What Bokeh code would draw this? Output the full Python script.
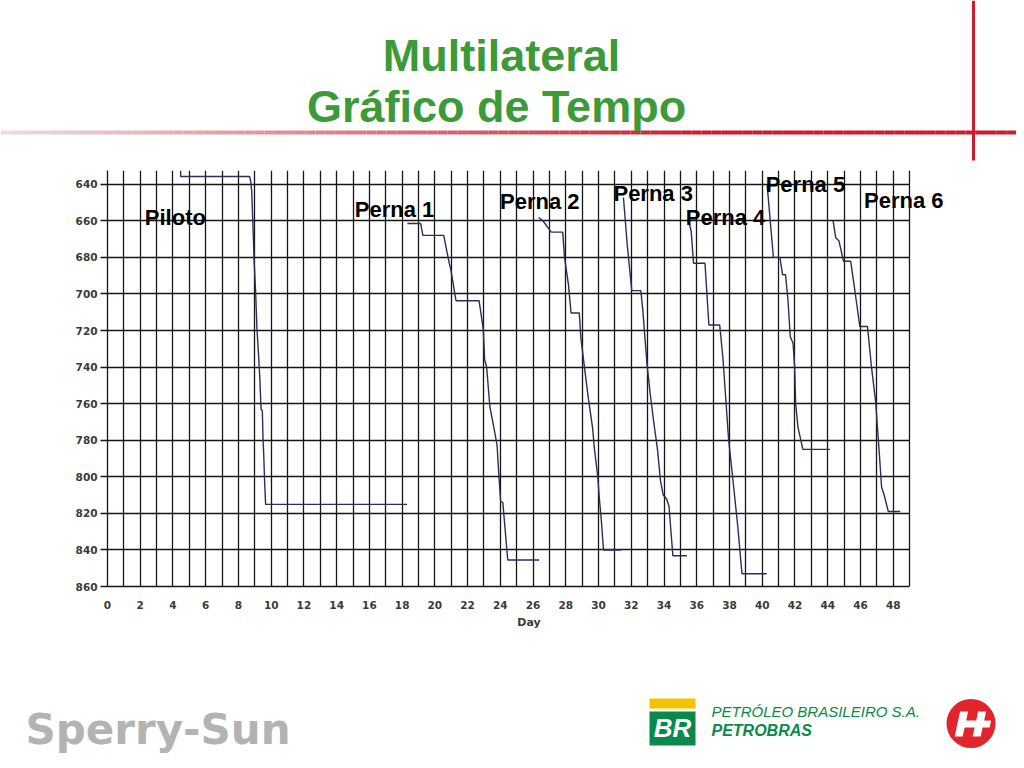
from bokeh.plotting import figure
from bokeh.models import Range1d, FixedTicker, Label
from bokeh.core.properties import value
from bokeh.embed import file_html
from bokeh.resources import INLINE

# ---------------- data ----------------
x_ticks = list(range(0, 49, 2))          # Day tick labels
x_grid_days = list(range(0, 50))          # one vertical line per day
y_ticks = list(range(640, 861, 20))       # depth tick labels

piloto_day = [4.47, 4.47, 8.69, 8.75, 8.81, 8.87, 8.91, 8.95, 9.05, 9.13, 9.22, 9.3, 9.38, 9.46, 9.5, 9.54, 9.6, 9.66, 18.3]
piloto_depth = [632.5, 635.8, 635.8, 638.5, 644, 658.7, 668.7, 680.6, 698.9, 719, 731.9, 745, 763, 764, 778.8, 787, 802.8, 815.1, 815.1]

perna1_day = [18.32, 19.13, 19.27, 20.54, 20.88, 20.98, 21.29, 22.7, 22.96, 23.04, 23.16, 23.36, 23.65, 23.8, 23.92, 24.02, 24.15, 24.45, 26.37]
perna1_depth = [661.5, 661.5, 668, 668, 683.3, 687, 703.7, 703.7, 719.7, 736, 739.8, 761.6, 775.3, 783, 800.5, 813.6, 814, 845.5, 845.5]

perna2_day = [26.34, 26.6, 27.11, 27.81, 27.92, 28.16, 28.32, 28.82, 28.92, 29.13, 29.37, 29.63, 29.75, 29.95, 30.05, 30.17, 30.3, 31.38]
perna2_depth = [658.2, 660, 666.2, 666.2, 680, 694.9, 710.4, 710.4, 724, 739.5, 756.7, 773, 785, 800, 812, 824, 840, 840]

perna3_day = [31.52, 31.75, 32.03, 32.58, 32.7, 32.96, 33.16, 33.4, 33.6, 33.78, 33.95, 34.15, 34.3, 34.54, 35.4]
perna3_depth = [647.3, 673, 698.2, 698.2, 708.6, 738.5, 755, 772, 785, 802, 810, 812, 816, 843.2, 843.2]

perna4_day = [35.5, 35.66, 35.8, 36.5, 36.74, 37.4, 37.6, 37.94, 38.2, 38.5, 38.76, 40.27]
perna4_depth = [660, 665.8, 683.2, 683.2, 717, 717, 735.3, 779.2, 801.1, 826.7, 853, 853]

perna5_day = [40.3, 40.68, 41.08, 41.24, 41.42, 41.57, 41.71, 41.88, 41.98, 42.04, 42.18, 42.48, 44.13]
perna5_depth = [640.5, 680, 680, 689.5, 689.5, 703.2, 723.3, 727, 739.8, 760, 772.8, 785, 785]

perna6_day = [44.33, 44.49, 44.69, 44.96, 45.4, 45.65, 45.96, 46.43, 46.67, 46.94, 47.02, 47.14, 47.29, 47.43, 47.7, 48.43]
perna6_depth = [660, 669.3, 671.1, 682.1, 682.1, 697.7, 717.8, 717.8, 739.8, 760, 771, 785.6, 805.7, 809.4, 819, 819]

leg_names = ["Piloto", "Perna 1", "Perna 2", "Perna 3", "Perna 4", "Perna 5", "Perna 6"]
leg_days = [piloto_day, perna1_day, perna2_day, perna3_day, perna4_day, perna5_day, perna6_day]
leg_depths = [piloto_depth, perna1_depth, perna2_depth, perna3_depth, perna4_depth, perna5_depth, perna6_depth]

# ---------------- styles / annotation positions ----------------
W = 1016
GREEN = "#3c9a38"
RED = "#c81f2e"
LINE = "#2d2d5c"
GRID = "#151515"
label_pos = {  # (day, depth) anchor of leg names
    "Piloto": (2.28, 658.4), "Perna 1": (15.11, 653.9), "Perna 2": (23.98, 649.7),
    "Perna 3": (30.91, 645.0), "Perna 4": (35.33, 658.1), "Perna 5": (40.21, 640.2),
    "Perna 6": (46.22, 649.0),
}

def blank(h, y0, y1):
    f = figure(width=W, height=h, x_range=Range1d(0, W), y_range=Range1d(y1, y0),
               output_backend="svg", toolbar_location=None,
               x_axis_location=None, y_axis_location=None, min_border=0)
    f.grid.visible = False
    f.outline_line_color = None
    f.background_fill_color = "white"
    return f

# ---------------- header ----------------
top = blank(170, 0, 170)
n = 100
xs = [i * (W / n) for i in range(n + 1)]
def grad(x):
    t = min(1.0, max(0.0, x / 700.0))
    c0 = (236, 222, 224); c1 = (200, 31, 46)
    return "#%02x%02x%02x" % tuple(int(c0[k] + (c1[k] - c0[k]) * t) for k in range(3))
top.segment(x0=xs[:-1], y0=[132] * n, x1=xs[1:], y1=[132] * n,
            line_color=[grad((a + b) / 2) for a, b in zip(xs[:-1], xs[1:])], line_width=4)
top.segment(x0=[973], y0=[0], x1=[973], y1=[160], line_color=RED, line_width=3)
top.text(x=[501, 496], y=[55, 106], text=["Multilateral", "Gráfico de Tempo"],
         text_font=value("Liberation Sans"), text_font_style="bold", text_font_size="45px",
         text_color=GREEN, text_align="center", text_baseline="alphabetic")

# ---------------- chart ----------------
X_END = 51.5
p = figure(width=W, height=470, x_range=Range1d(0, X_END), y_range=Range1d(860, 632.5),
           output_backend="svg", toolbar_location=None,
           min_border_left=107, min_border_right=66, min_border_top=0, min_border_bottom=54)
p.outline_line_color = None
p.background_fill_color = "white"

p.xaxis.ticker = FixedTicker(ticks=x_ticks, minor_ticks=[])
p.xaxis.bounds = (0, 49)
p.xgrid.ticker = FixedTicker(ticks=x_grid_days, minor_ticks=[])
p.yaxis.ticker = FixedTicker(ticks=y_ticks, minor_ticks=[])
p.xgrid.grid_line_color = GRID
p.xgrid.grid_line_width = 1.3
p.ygrid.grid_line_color = GRID
p.ygrid.grid_line_width = 1.3
try:
    p.ygrid.cross_bounds = (0, 49)
except Exception:
    pass

for ax in (p.xaxis, p.yaxis):
    ax.axis_line_color = GRID
    ax.axis_line_width = 1.3
    ax.major_label_text_font = "DejaVu Sans"
    ax.major_label_text_font_style = "bold"
    ax.major_label_text_font_size = "10.5px"
    ax.major_label_text_color = "#3a3a3a"
    ax.minor_tick_line_color = None

p.xaxis.major_tick_line_color = None
p.xaxis.major_label_standoff = 8
p.xaxis.axis_label = "Day"
p.xaxis.axis_label_text_font = "DejaVu Sans"
p.xaxis.axis_label_text_font_style = "bold"
p.xaxis.axis_label_text_font_size = "11px"
p.xaxis.axis_label_text_color = "#3a3a3a"
p.xaxis.axis_label_standoff = 4

p.yaxis.major_tick_line_color = GRID
p.yaxis.major_tick_line_width = 1.3
p.yaxis.major_tick_out = 7
p.yaxis.major_tick_in = 0
p.yaxis.major_label_standoff = 3

for d, z in zip(leg_days, leg_depths):
    p.line(d, z, line_color=LINE, line_width=1.4)

for name in leg_names:
    lx, ly = label_pos[name]
    p.add_layout(Label(x=lx, y=ly, text=name, text_font="Liberation Sans",
                       text_font_style="bold", text_font_size="22px",
                       text_color="black", text_baseline="alphabetic"))

# ---------------- footer ----------------
bot = blank(120, 640, 760)
bot.text(x=[25], y=[729], text=["Sperry-Sun"], text_font=value("DejaVu Sans"),
         text_font_style="bold", text_font_size="42px", text_color="#b3b3b3",
         text_baseline="alphabetic")
bot.quad(left=[649], right=[695], top=[698], bottom=[708], fill_color="#f3c300", line_color=None)
bot.quad(left=[649], right=[695], top=[711], bottom=[745], fill_color="#0a8a4a", line_color=None)
bot.text(x=[672], y=[727], text=["BR"], text_font=value("Liberation Sans"),
         text_font_style="bold italic", text_font_size="26px", text_color="white",
         text_align="center", text_baseline="alphabetic")
bot.text(x=[711], y=[711], text=["PETRÓLEO BRASILEIRO S.A."], text_font=value("Liberation Sans"),
         text_font_style="italic", text_font_size="15px", text_color="#0a8a4a",
         text_baseline="alphabetic")
bot.text(x=[711], y=[730], text=["PETROBRAS"], text_font=value("Liberation Sans"),
         text_font_style="bold italic", text_font_size="16px", text_color="#0a8a4a",
         text_baseline="alphabetic")
bot.ellipse(x=[970.5], y=[723], width=49, height=49, fill_color="#e2242c", line_color=None)
def skew(xv, yv):
    return [x + (723 - y) * 0.22 for x, y in zip(xv, yv)]
bars = [([957, 965, 965, 957], [711, 711, 736, 736]),
        ([975, 983, 983, 975], [711, 711, 736, 736]),
        ([957, 990, 990, 957], [720, 720, 727, 727])]
bot.patches(xs=[skew(a, b) for a, b in bars], ys=[b for a, b in bars],
            fill_color="white", line_color=None)

# separate roots so the figures' frames are not aligned to each other
open("out.html", "w").write(file_html([top, p, bot], INLINE))
